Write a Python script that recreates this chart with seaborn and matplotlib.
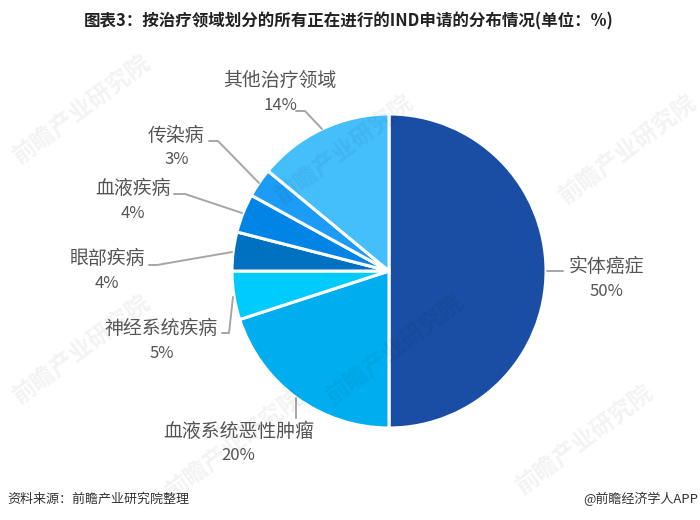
import matplotlib
matplotlib.use("Agg")
import matplotlib.pyplot as plt
import seaborn as sns

categories = ["实体癌症", "血液系统恶性肿瘤", "神经系统疾病", "眼部疾病", "血液疾病", "传染病", "其他治疗领域"]
shares = [50, 20, 5, 4, 4, 3, 14]
colors = ["#1A4EA4", "#00AEEF", "#00CBFF", "#0070C0", "#0084E6", "#1C9CF6", "#45BEFC"]
title = "图表3：按治疗领域划分的所有正在进行的IND申请的分布情况(单位：%)"
source = "资料来源：前瞻产业研究院整理"
credit = "@前瞻经济学人APP"
watermark = "前瞻产业研究院"

sns.set_theme(style="white")
plt.rcParams["font.family"] = ["Noto Sans CJK SC", "DejaVu Sans"]

W, H = 700, 520
fig = plt.figure(figsize=(7, 5.2), dpi=100, facecolor="white")

cx, cy, r = 389, 271, 157
ax = fig.add_axes([(cx - r) / W, 1 - (cy + r) / H, 2 * r / W, 2 * r / H])
ax.pie(shares, colors=sns.color_palette(colors), startangle=90, counterclock=False, radius=1,
       wedgeprops=dict(edgecolor="white", linewidth=2.2))
ax.set_xlim(-1, 1)
ax.set_ylim(-1, 1)

ov = fig.add_axes([0, 0, 1, 1], facecolor="none")
ov.set_xlim(0, W)
ov.set_ylim(H, 0)
ov.axis("off")

for x, y in [(82, 110), (345, 150), (628, 150), (82, 350), (395, 350), (585, 440), (235, 445)]:
    ov.text(x, y, watermark, fontsize=17, color="#000000", alpha=0.05, rotation=37,
            ha="center", va="center", fontweight="bold")

label_color = "#555555"
label_pos = [(606, 266), (239, 431), (161, 329), (107, 258), (133, 188), (176, 135), (280, 80)]
pct_pos = [(606, 291), (238, 456), (162, 353), (107, 283), (133, 213), (177, 159), (280, 105)]
leaders = [
    ([547, 563], [271, 271]),
    ([296, 296], [398, 418]),
    ([233, 229, 222], [297, 333, 333]),
    ([232, 157, 149], [252, 265, 265]),
    ([242, 185, 174], [213, 194, 194]),
    ([259, 218, 209], [183, 141, 141]),
    ([322, 305, 296], [129, 111, 111]),
]
for name, v, lp, pp, (lx, ly) in zip(categories, shares, label_pos, pct_pos, leaders):
    ov.text(lp[0], lp[1], name, fontsize=13.6, color=label_color, ha="center", va="center")
    ov.text(pp[0], pp[1], f"{v}%", fontsize=12, color=label_color, ha="center", va="center")
    ov.plot(lx, ly, color="#A6A6A6", lw=1.4)

ov.text(349, 21, title, fontsize=11.9, fontweight="bold", color="#222222", ha="center", va="center")
ov.text(7, 499, source, fontsize=9.4, color="#333333", ha="left", va="center")
ov.text(698, 499, credit, fontsize=9.4, color="#333333", ha="right", va="center")

fig.savefig("out.png", dpi=100)
